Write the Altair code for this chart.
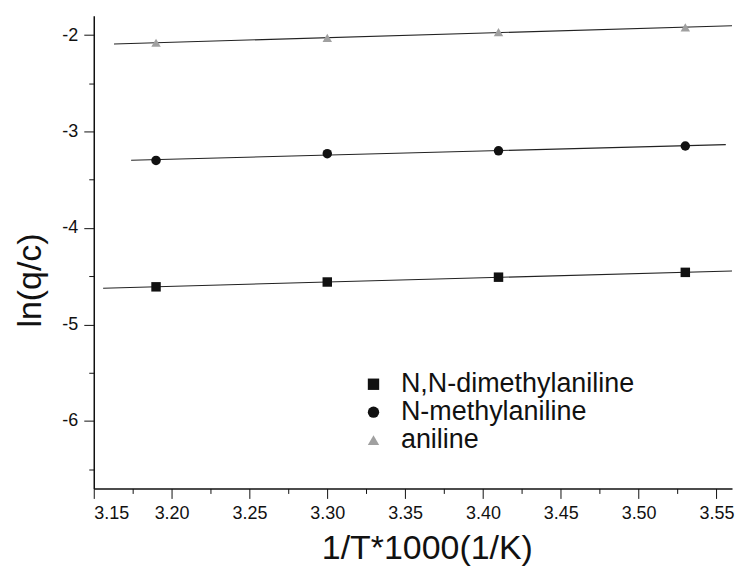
import altair as alt
import pandas as pd

# ---- data ----
inv_T = [3.19, 3.30, 3.41, 3.53]
series_names = ["N,N-dimethylaniline", "N-methylaniline", "aniline"]
y_dimethyl = [-4.61, -4.56, -4.51, -4.46]
y_methyl = [-3.30, -3.23, -3.20, -3.15]
y_aniline = [-2.08, -2.03, -1.97, -1.92]
fit_extents = {
    "N,N-dimethylaniline": [3.156, 3.56],
    "N-methylaniline": [3.174, 3.556],
    "aniline": [3.163, 3.56],
}
x_major = [3.15, 3.20, 3.25, 3.30, 3.35, 3.40, 3.45, 3.50, 3.55]
x_minor = [3.175, 3.225, 3.275, 3.325, 3.375, 3.425, 3.475, 3.525]
y_major = [-2, -3, -4, -5, -6]
y_minor = [-2.5, -3.5, -4.5, -5.5, -6.5]

rows = []
for name, ys in zip(series_names, [y_dimethyl, y_methyl, y_aniline]):
    for x, y in zip(inv_T, ys):
        rows.append({"x": x, "y": y, "series": name})
df = pd.DataFrame(rows)

FONT = "Liberation Sans"
xscale = alt.Scale(domain=[3.15, 3.56], nice=False, zero=False)
yscale = alt.Scale(domain=[-6.7, -1.8], nice=False, zero=False)

color_scale = alt.Scale(domain=series_names, range=["#111111", "#111111", "#a0a0a0"])
shape_scale = alt.Scale(domain=series_names, range=["square", "circle", "triangle-up"])

legend = alt.Legend(
    orient="none", legendX=267, legendY=356, title=None,
    labelFont=FONT, labelFontSize=27, labelColor="#111111", labelLimit=0,
    symbolSize=130, symbolStrokeWidth=0, rowPadding=0, labelOffset=14,
)

x_axis_major = alt.Axis(
    values=x_major, format=".2f", title="1/T*1000(1/K)", grid=False,
    tickSize=10, tickColor="#111111", domainColor="#111111", domainWidth=1.5,
    labelFont=FONT, labelFontSize=18, labelColor="#111111", labelPadding=6,
    titleFont=FONT, titleFontSize=34, titleFontWeight="normal", titleColor="#111111",
    titleX=334, titleY=70, titleBaseline="alphabetic",
)
y_axis_major = alt.Axis(
    values=y_major, labelExpr="'-' + abs(datum.value)", title="ln(q/c)", grid=False,
    tickSize=10, tickColor="#111111", domainColor="#111111", domainWidth=1.5,
    labelFont=FONT, labelFontSize=18, labelColor="#111111", labelPadding=6,
    titleFont=FONT, titleFontSize=34, titleFontWeight="normal", titleColor="#111111",
    titleX=-53, titleY=265, titleAngle=-90, titleBaseline="alphabetic",
)
x_axis_minor = alt.Axis(
    values=x_minor, orient="bottom", labels=False, title=None, grid=False,
    domain=False, tickSize=5, tickColor="#111111",
)
y_axis_minor = alt.Axis(
    values=y_minor, orient="left", labels=False, title=None, grid=False,
    domain=False, tickSize=5, tickColor="#111111",
)

base = alt.Chart(df)

points = base.mark_point(filled=True, opacity=1).encode(
    x=alt.X("x:Q", scale=xscale, axis=x_axis_major),
    y=alt.Y("y:Q", scale=yscale, axis=y_axis_major),
    color=alt.Color("series:N", scale=color_scale, legend=legend),
    shape=alt.Shape("series:N", scale=shape_scale, legend=legend),
    size=alt.value(90),
)

minor = base.mark_point(opacity=0).encode(
    x=alt.X("x:Q", scale=xscale, axis=x_axis_minor),
    y=alt.Y("y:Q", scale=yscale, axis=y_axis_minor),
)

fit_layers = []
for name in series_names:
    fit_layers.append(
        base.transform_filter(alt.datum.series == name)
        .transform_regression("x", "y", extent=fit_extents[name])
        .mark_line(color="#222222", strokeWidth=1.1)
        .encode(
            x=alt.X("x:Q", scale=xscale, axis=None),
            y=alt.Y("y:Q", scale=yscale, axis=None),
        )
    )

chart = (
    alt.layer(*fit_layers, points, minor)
    .resolve_axis(x="independent", y="independent")
    .properties(
        width=640, height=474,
        autosize=alt.AutoSizeParams(type="none"),
        padding={"left": 86, "top": 7, "right": 5, "bottom": 79},
        background="white",
    )
    .configure_view(stroke=None)
)

chart.save("out.html", embed_options={"renderer": "svg", "actions": False})
